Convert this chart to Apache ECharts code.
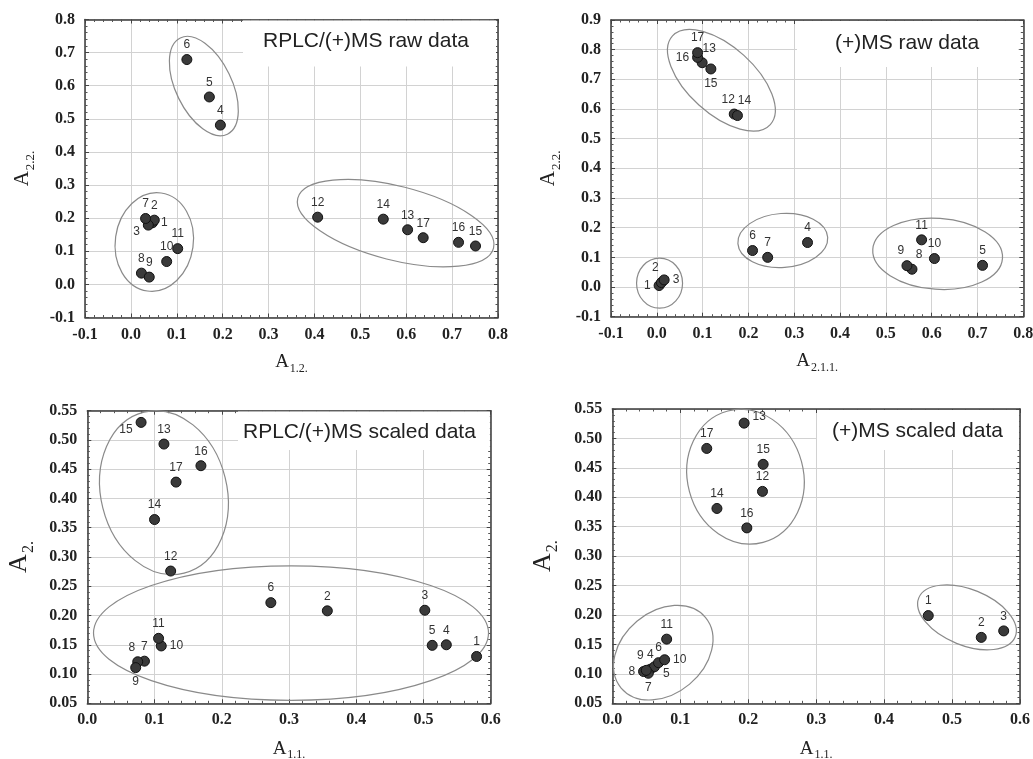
<!doctype html>
<html>
<head>
<meta charset="utf-8">
<title>PCA loadings</title>
<style>
  html, body { margin: 0; padding: 0; background: #fff; }
  #chart { width: 1033px; height: 759px; }
</style>
</head>
<body>
<div id="chart"></div>
<script src="https://cdn.jsdelivr.net/npm/echarts@6/dist/echarts.min.js"></script>
<script>
// point number = array index + 1
// RPLC/(+)MS raw data
var rawLcX = [0.047, 0.051, 0.038, 0.195, 0.171, 0.122, 0.032, 0.023, 0.040, 0.078, 0.102, 0.407, 0.603, 0.550, 0.751, 0.714, 0.637];
var rawLcY = [0.186, 0.194, 0.179, 0.481, 0.566, 0.679, 0.199, 0.034, 0.022, 0.069, 0.108, 0.203, 0.165, 0.197, 0.116, 0.127, 0.141];
// (+)MS raw data
var rawMsX = [0.005, 0.010, 0.016, 0.329, 0.711, 0.209, 0.242, 0.557, 0.546, 0.606, 0.578, 0.169, 0.099, 0.176, 0.118, 0.089, 0.089];
var rawMsY = [0.005, 0.015, 0.024, 0.150, 0.073, 0.123, 0.100, 0.060, 0.072, 0.096, 0.159, 0.583, 0.756, 0.578, 0.735, 0.774, 0.790];
// RPLC/(+)MS scaled data
var scLcX = [0.579, 0.357, 0.502, 0.534, 0.513, 0.273, 0.085, 0.075, 0.072, 0.110, 0.106, 0.124, 0.114, 0.100, 0.080, 0.169, 0.132];
var scLcY = [0.130, 0.208, 0.209, 0.150, 0.149, 0.222, 0.122, 0.121, 0.111, 0.148, 0.161, 0.276, 0.493, 0.364, 0.530, 0.456, 0.428];
// (+)MS scaled data
var scMsX = [0.465, 0.543, 0.576, 0.056, 0.062, 0.068, 0.053, 0.046, 0.050, 0.077, 0.080, 0.221, 0.194, 0.154, 0.222, 0.198, 0.139];
var scMsY = [0.199, 0.162, 0.173, 0.108, 0.112, 0.119, 0.101, 0.104, 0.106, 0.124, 0.159, 0.410, 0.526, 0.381, 0.456, 0.348, 0.483];

var serif = '"Liberation Serif", "DejaVu Serif", serif';
var sans = '"Liberation Sans", Arial, sans-serif';

// where the number sits next to a point
var place = {
  t: { position: 'top' },
  b: { position: 'bottom' },
  l: { position: 'left' },
  r: { position: 'right' },
  tl: { position: 'top', offset: [-6, 0] },
  tr: { position: 'top', offset: [7, 0] },
  lb: { position: 'left', offset: [0, 7] },
  rb: { position: 'right', offset: [0, 7] },
  rt: { position: 'right', offset: [0, -6] }
};

var panels = [
  {
    xs: rawLcX, ys: rawLcY,
    grid: { left: 85, top: 19.5, width: 413, height: 298 },
    x: [-0.1, 0.8, 0.1], y: [-0.1, 0.8, 0.1], yDec: 1,
    xSub: '1.2.', ySub: '2.2.', yFont: 21, yGap: 52, xGap: 35,
    title: 'RPLC/(+)MS raw data', tLeft: 243, tTop: 20.5, tPad: [9, 27, 13, 20],
    labels: { 1: 'r', 3: 'lb' },
    // [cx, cy, rx px, ry px, rotation deg]
    rings: [[0.159, 0.599, 53.6, 28, -63.9], [0.051, 0.128, 39, 49.5, -8], [0.577, 0.185, 101, 37, -14.3]]
  },
  {
    xs: rawMsX, ys: rawMsY,
    grid: { left: 611, top: 20, width: 412.3, height: 296.7 },
    x: [-0.1, 0.8, 0.1], y: [-0.1, 0.9, 0.1], yDec: 1,
    xSub: '2.1.1.', ySub: '2.2.', yFont: 21, yGap: 52, xGap: 35,
    title: '(+)MS raw data', tLeft: 797, tTop: 21, tPad: [10, 39, 12, 38],
    labels: { 1: 'l', 2: 'tl', 3: 'r', 16: 'l', 13: 'tr', 15: 'b', 12: 'tl', 14: 'tr', 9: 'tl', 8: 'tr' },
    rings: [[0.141, 0.697, 66, 33.5, -42.2], [0.275, 0.157, 45, 27, 4], [0.613, 0.112, 65, 35.5, -4], [0.006, 0.013, 23, 25, 0]]
  },
  {
    xs: scLcX, ys: scLcY,
    grid: { left: 87.3, top: 410.7, width: 403.4, height: 292.6 },
    x: [0, 0.6, 0.1], y: [0.05, 0.55, 0.05], yDec: 2,
    xSub: '1.1.', ySub: '2.', yFont: 26, yGap: 55, xGap: 36,
    title: 'RPLC/(+)MS scaled data', tLeft: 238, tTop: 411.5, tPad: [8.5, 14, 6, 5],
    labels: { 15: 'lb', 10: 'r', 9: 'b', 8: 'tl' },
    rings: [[0.114, 0.410, 63, 83, 14], [0.303, 0.170, 197.5, 67.3, 0]]
  },
  {
    xs: scMsX, ys: scMsY,
    grid: { left: 612.3, top: 409, width: 407.7, height: 294.3 },
    x: [0, 0.6, 0.1], y: [0.05, 0.55, 0.05], yDec: 2,
    xSub: '1.1.', ySub: '2.', yFont: 26, yGap: 56, xGap: 36,
    title: '(+)MS scaled data', tLeft: 817, tTop: 410, tPad: [9, 16, 7, 15],
    labels: { 13: 'rt', 10: 'r', 8: 'l', 9: 'tl', 7: 'b', 5: 'rb' },
    rings: [[0.196, 0.435, 58, 68, 15], [0.075, 0.136, 55, 41, 40], [0.522, 0.196, 52, 28, -22]]
  }
];

function axisName(size) {
  return {
    rich: {
      a: { fontFamily: serif, fontSize: size, lineHeight: size, verticalAlign: 'top', color: '#222' },
      s: { fontFamily: serif, fontSize: Math.round(size * 0.62), lineHeight: Math.round(size * 0.62),
           padding: [Math.round(size * 0.55), 0, 0, 1], verticalAlign: 'top', color: '#222' }
    }
  };
}

function fmt(dec) {
  return function (v) {
    if (Math.abs(v) < 1e-9) v = 0;
    return v.toFixed(dec);
  };
}

var option = {
  backgroundColor: '#fff',
  animation: false,
  title: [], grid: [], xAxis: [], yAxis: [], series: []
};

panels.forEach(function (p, i) {
  option.grid.push(Object.assign({ outerBoundsMode: 'none', containLabel: false }, p.grid));
  option.title.push({
    text: p.title, left: p.tLeft, top: p.tTop, padding: p.tPad,
    backgroundColor: '#fff',
    textStyle: { fontFamily: sans, fontSize: 21, fontWeight: 'normal', color: '#222', lineHeight: 24 }
  });

  var frame = { onZero: false, lineStyle: { color: '#3a3a3a', width: 1.5 } };
  var tick = { inside: true, length: 4, lineStyle: { color: '#444' } };
  var minor = { show: true, splitNumber: 5, length: 2.5, lineStyle: { color: '#555' } };
  var grid = { show: true, lineStyle: { color: '#d2d2d2', width: 1 } };
  var lbl = { fontFamily: serif, fontWeight: 'bold', fontSize: 16, color: '#222' };

  option.xAxis.push({
    gridIndex: i, type: 'value', min: p.x[0], max: p.x[1], interval: p.x[2],
    axisLine: frame, axisTick: tick, minorTick: minor, splitLine: grid,
    axisLabel: Object.assign({ margin: 9, formatter: fmt(1) }, lbl),
    name: '{a|A}{s|' + p.xSub + '}', nameLocation: 'middle', nameGap: p.xGap,
    nameTextStyle: axisName(19)
  }, {
    gridIndex: i, type: 'value', position: 'top', min: p.x[0], max: p.x[1], interval: p.x[2],
    axisLine: frame, axisTick: tick, minorTick: minor, splitLine: { show: false }, axisLabel: { show: false }
  });
  option.yAxis.push({
    gridIndex: i, type: 'value', min: p.y[0], max: p.y[1], interval: p.y[2],
    axisLine: frame, axisTick: tick, minorTick: minor, splitLine: grid,
    axisLabel: Object.assign({ margin: 10, formatter: fmt(p.yDec) }, lbl),
    name: '{a|A}{s|' + p.ySub + '}', nameLocation: 'middle', nameGap: p.yGap,
    nameTextStyle: axisName(p.yFont)
  }, {
    gridIndex: i, type: 'value', position: 'right', min: p.y[0], max: p.y[1], interval: p.y[2],
    axisLine: frame, axisTick: tick, minorTick: minor, splitLine: { show: false }, axisLabel: { show: false }
  });

  var pts = p.xs.map(function (x, k) {
    var id = k + 1;
    var pl = place[p.labels[id] || 't'];
    return { value: [x, p.ys[k]], name: String(id), label: Object.assign({}, pl) };
  });

  option.series.push({
    type: 'custom', xAxisIndex: 2 * i, yAxisIndex: 2 * i, z: 1, silent: true,
    data: p.rings,
    encode: { x: 0, y: 1 },
    renderItem: function (params, api) {
      var c = api.coord([api.value(0), api.value(1)]);
      return {
        type: 'ellipse', x: c[0], y: c[1], rotation: api.value(4) * Math.PI / 180,
        shape: { cx: 0, cy: 0, rx: api.value(2), ry: api.value(3) },
        style: { fill: null, stroke: '#8a8a8a', lineWidth: 1.2 }
      };
    }
  });
  option.series.push({
    type: 'scatter', xAxisIndex: 2 * i, yAxisIndex: 2 * i, z: 3,
    symbolSize: 10,
    itemStyle: { color: '#3a3a3a', borderColor: '#111', borderWidth: 1, opacity: 1 },
    label: {
      show: true, formatter: '{b}', distance: 3,
      fontFamily: sans, fontSize: 12, color: '#333'
    },
    data: pts
  });
});

var chart = echarts.init(document.getElementById('chart'));
chart.setOption(option);
</script>
</body>
</html>
